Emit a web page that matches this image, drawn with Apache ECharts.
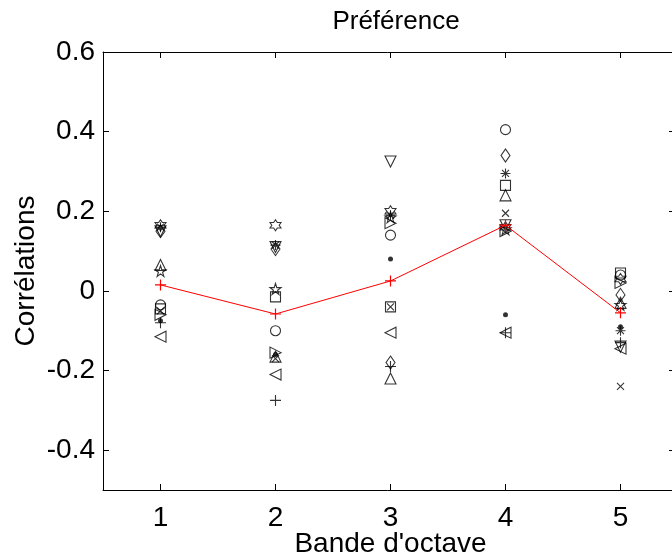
<!DOCTYPE html>
<html>
<head>
<meta charset="utf-8">
<title>Préférence</title>
<script src="https://cdn.jsdelivr.net/npm/echarts@6/dist/echarts.min.js"></script>
<style>
  html, body { margin: 0; padding: 0; background: #fff; overflow: hidden; }
  #chart { width: 672px; height: 557px; }
</style>
</head>
<body>
<div id="chart"></div>
<script>
// Octave bands on the x axis
const bands = [1, 2, 3, 4, 5];
const yTicks = [-0.4, -0.2, 0, 0.2, 0.4, 0.6];

// Correlation per listener, one value per octave band
const subjCircle   = [-0.035, -0.100,  0.140,  0.405,  0.040];
const subjCross    = [-0.050, -0.170, -0.040,  0.195, -0.240];
const subjPlus     = [-0.080, -0.275, -0.190, -0.105, -0.130];
const subjStar     = [ 0.160,  0.115,  0.190,  0.295, -0.100];
const subjSquare   = [-0.045, -0.015, -0.040,  0.265,  0.045];
const subjDiamond  = [ 0.150,  0.105, -0.180,  0.340, -0.010];
const subjTriDown  = [ 0.150,  0.110,  0.325,  0.165, -0.140];
const subjTriUp    = [ 0.065, -0.165, -0.220,  0.240, -0.030];
const subjTriLeft  = [-0.115, -0.210, -0.105, -0.105, -0.145];
const subjTriRight = [-0.060, -0.155,  0.170,  0.150,  0.020];
const subjPenta    = [ 0.050,  0.005,  0.185,  0.155, -0.035];
const subjHexa     = [ 0.165,  0.165,  0.200,  0.160,  0.030];
const subjDot      = [-0.075, -0.160,  0.080, -0.060, -0.090];

// Mean correlation across listeners
const meanValues   = [ 0.015, -0.058,  0.025,  0.165, -0.055];

const SYM = {
  cross: 'path://M0,0L10,10M10,0L0,10',
  plus: 'path://M5,0L5,10M0,5L10,5',
  star: 'path://M5,0L5,10M0,5L10,5M1.5,1.5L8.5,8.5M8.5,1.5L1.5,8.5',
  triDown: 'path://M0,0L10,0L5,9Z',
  triUp: 'path://M5,0L10,9L0,9Z',
  triLeft: 'path://M9,0L9,10L0,5Z',
  triRight: 'path://M0,0L0,10L9,5Z',
  diamond: 'path://M5,0L10,7L5,14L0,7Z',
  penta: 'path://M50,0L61.8,36.3L100,36.3L69.1,58.8L80.9,95.1L50,72.6L19.1,95.1L30.9,58.8L0,36.3L38.2,36.3Z',
  hexa: 'path://M50,0L64.4,25L93.3,25L78.9,50L93.3,75L64.4,75L50,100L35.6,75L6.7,75L21.1,50L6.7,25L35.6,25Z'
};

function pairs(vals) {
  return bands.map((b, i) => [b, vals[i]]);
}

function subject(name, vals, symbol, size, filled) {
  return {
    name: name,
    type: 'scatter',
    data: pairs(vals),
    symbol: symbol,
    symbolSize: size,
    itemStyle: filled
      ? { color: '#000', borderWidth: 0 }
      : { color: 'rgba(0,0,0,0)', borderColor: '#000', borderWidth: 1.1 },
    emphasis: { disabled: true },
    z: 3
  };
}

const font = 'Liberation Sans, Arial, Helvetica, sans-serif';
const chart = echarts.init(document.getElementById('chart'), null, { renderer: 'canvas' });

const tickStyle = { inside: true, length: 6, lineStyle: { color: '#000', width: 1 } };
const axisFont = 28;

chart.setOption({
  backgroundColor: '#fff',
  animation: false,
  title: {
    text: 'Préférence',
    left: 391,
    top: 4,
    textAlign: 'center',
    textStyle: { fontFamily: font, fontSize: 26, fontWeight: 'normal', color: '#000' }
  },
  grid: { left: 103, top: 52, width: 575, height: 438, outerBoundsMode: 'none', containLabel: false, show: false },
  xAxis: [
    {
      type: 'value', min: 0.5, max: 5.5, position: 'bottom',
      axisLine: { show: true, onZero: false, lineStyle: { color: '#000', width: 1 } },
      axisTick: Object.assign({ show: true, customValues: bands }, tickStyle),
      axisLabel: { customValues: bands, color: '#000', fontFamily: font, fontSize: axisFont, margin: 14 },
      splitLine: { show: false },
      name: "Bande d'octave", nameLocation: 'middle', nameGap: 40, nameMoveOverlap: false,
      nameTextStyle: { color: '#000', fontFamily: font, fontSize: axisFont }
    },
    {
      type: 'value', min: 0.5, max: 5.5, position: 'top',
      axisLine: { show: true, onZero: false, lineStyle: { color: '#000', width: 1 } },
      axisTick: Object.assign({ show: true, customValues: bands }, tickStyle),
      axisLabel: { show: false },
      splitLine: { show: false }
    }
  ],
  yAxis: [
    {
      type: 'value', min: -0.5, max: 0.6, position: 'left',
      axisLine: { show: true, onZero: false, lineStyle: { color: '#000', width: 1 } },
      axisTick: Object.assign({ show: true, customValues: yTicks }, tickStyle),
      axisLabel: { customValues: yTicks, color: '#000', fontFamily: font, fontSize: axisFont, margin: 8 },
      splitLine: { show: false },
      name: 'Corrélations', nameLocation: 'middle', nameGap: 63, nameRotate: 90, nameMoveOverlap: false,
      nameTextStyle: { color: '#000', fontFamily: font, fontSize: axisFont }
    },
    {
      type: 'value', min: -0.5, max: 0.6, position: 'right',
      axisLine: { show: false },
      axisTick: Object.assign({ show: true, customValues: yTicks }, tickStyle, { length: 9 }),
      axisLabel: { show: false },
      splitLine: { show: false }
    }
  ],
  series: [
    subject('o', subjCircle, 'circle', 10, false),
    subject('x', subjCross, SYM.cross, 7, false),
    subject('+', subjPlus, SYM.plus, 11, false),
    subject('*', subjStar, SYM.star, 10, false),
    subject('s', subjSquare, 'rect', 10, false),
    subject('d', subjDiamond, SYM.diamond, [9, 13], false),
    subject('v', subjTriDown, SYM.triDown, 11, false),
    subject('^', subjTriUp, SYM.triUp, 11, false),
    subject('<', subjTriLeft, SYM.triLeft, 11, false),
    subject('>', subjTriRight, SYM.triRight, 11, false),
    subject('p', subjPenta, SYM.penta, 11, false),
    subject('h', subjHexa, SYM.hexa, 11, false),
    subject('.', subjDot, 'circle', 5, true),
    {
      name: 'Moyenne',
      type: 'line',
      data: pairs(meanValues),
      symbol: SYM.plus,
      symbolSize: 11,
      lineStyle: { color: '#ff0000', width: 1 },
      itemStyle: { color: 'rgba(0,0,0,0)', borderColor: '#ff0000', borderWidth: 1.2 },
      emphasis: { disabled: true },
      z: 4
    }
  ]
});
</script>
</body>
</html>
